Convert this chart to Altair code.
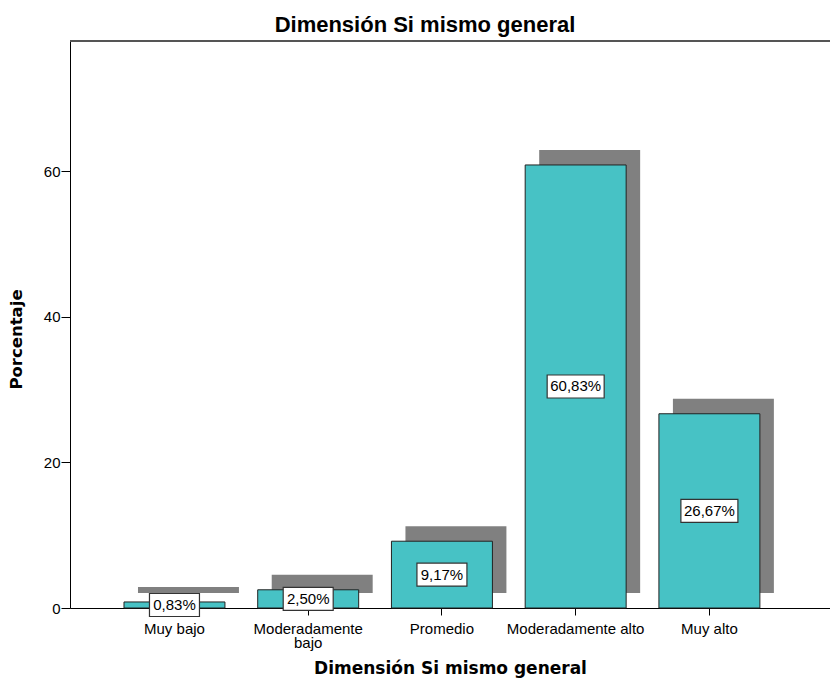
import altair as alt
import pandas as pd

# ---- data ----
categories = ["Muy bajo", "Moderadamente bajo", "Promedio", "Moderadamente alto", "Muy alto"]
percentages = [0.83, 2.50, 9.17, 60.83, 26.67]
y_ticks = [0, 20, 40, 60]
chart_title = "Dimensión Si mismo general"
x_title = "Dimensión Si mismo general"
y_title = "Porcentaje"

df = pd.DataFrame({"cat": categories, "pct": percentages})

W, H = 760, 567
BAR = "#47c2c5"
SHADOW = "#808080"

x_scale = alt.Scale(domain=categories, paddingInner=0.245, paddingOuter=0.464, align=0.435)
y_scale = alt.Scale(domain=[0, 77.85], nice=False, zero=True)

x_axis = alt.Axis(
    labelFont="Liberation Sans", labelFontSize=15, labelColor="black", labelAngle=0,
    labelPadding=6, labelLineHeight=14.5, labelOverlap=False, labelLimit=0,
    labelExpr="datum.value == 'Moderadamente bajo' ? ['Moderadamente', 'bajo'] : datum.label",
    tickSize=7, tickColor="black", domainColor="black", domainWidth=1,
    titleFont="DejaVu Sans", titleFontSize=17, titleFontWeight="bold", titleColor="black",
    titlePadding=10,
)
y_axis = alt.Axis(
    values=y_ticks, labelFont="Liberation Sans", labelFontSize=15, labelColor="black",
    tickSize=9, labelPadding=1, tickColor="black", domainColor="black", domainWidth=1, grid=False,
    titleFont="DejaVu Sans", titleFontSize=16.5, titleFontWeight="bold", titleColor="black",
    titleX=-54, titleY=298, titleAngle=270, titleBaseline="middle", titleAlign="center",
)

X = alt.X("cat:N", scale=x_scale, sort=categories, axis=x_axis, title=x_title)

base = alt.Chart(df)

shadow = base.mark_bar(
    color=SHADOW, xOffset=14, x2Offset=14, yOffset=-15, y2Offset=-15
).encode(
    x=X,
    y=alt.Y("pct:Q", scale=y_scale, axis=y_axis, title=y_title),
)

bars = base.mark_bar(color=BAR, stroke="#222222", strokeWidth=1).encode(
    x=X,
    y=alt.Y("pct:Q", scale=y_scale, axis=y_axis, title=y_title),
)

path6 = "M-1,-0.4035H1V0.4035H-1Z"
path5 = "M-0.877,-0.4035H0.877V0.4035H-0.877Z"

lab = base.transform_calculate(
    mid="datum.pct / 2",
    txt="replace(format(datum.pct, '.2f'), '.', ',') + '%'",
).transform_calculate(
    nchar="length(datum.txt)"
)

boxes = lab.mark_point(
    filled=True, fill="white", stroke="#333333", strokeWidth=1.2, opacity=1, size=3249
).encode(
    x=X,
    y=alt.Y("mid:Q", scale=y_scale, axis=y_axis, title=y_title),
    shape=alt.Shape("nchar:O", scale=alt.Scale(domain=[5, 6], range=[path5, path6]), legend=None),
)

texts = lab.mark_text(
    font="Liberation Sans", fontSize=15, color="black", baseline="middle", align="center"
).encode(
    x=X,
    y=alt.Y("mid:Q", scale=y_scale, axis=y_axis, title=y_title),
    text="txt:N",
)

top_line = alt.Chart(pd.DataFrame({"k": [0]})).mark_rule(
    color="#555555", strokeWidth=2
).encode(y=alt.value(0))

chart = alt.layer(shadow, bars, boxes, texts, top_line).properties(
    width=W, height=H,
    autosize="none",
    padding={"left": 62, "top": 33, "right": 0, "bottom": 70},
    title=alt.TitleParams(
        chart_title, font="Liberation Sans", fontSize=22, fontWeight="bold", color="black",
        anchor="middle", dx=-25, baseline="alphabetic", offset=-14,
    ),
).configure_view(fill="#f0f0f0", stroke=None).configure(background="white")

chart.save("out.html", embed_options={"renderer": "svg", "actions": False})
